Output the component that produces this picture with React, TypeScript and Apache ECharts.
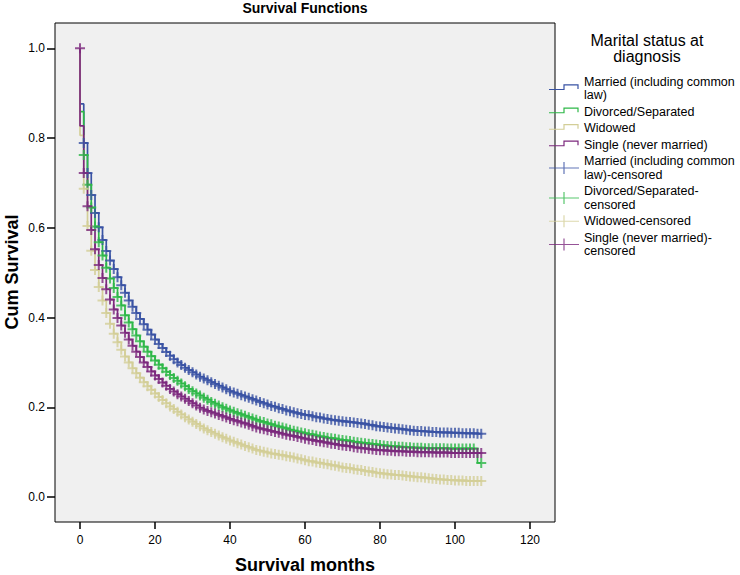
import React, { useEffect, useRef } from "react";
import * as echarts from "echarts";

// Kaplan-Meier survival values S(t) for months t = 0..107
const married = [
  0.876, 0.789, 0.722, 0.673, 0.633, 0.601, 0.573, 0.548, 0.527, 0.508,
  0.490, 0.472, 0.455, 0.438, 0.424, 0.410, 0.397, 0.385, 0.373, 0.362,
  0.351, 0.341, 0.332, 0.323, 0.315, 0.307, 0.300, 0.294, 0.288, 0.283,
  0.278, 0.273, 0.268, 0.264, 0.260, 0.256, 0.252, 0.248, 0.244, 0.240,
  0.236, 0.233, 0.230, 0.227, 0.224, 0.221, 0.218, 0.215, 0.212, 0.209,
  0.206, 0.203, 0.201, 0.198, 0.196, 0.193, 0.191, 0.189, 0.187, 0.185,
  0.183, 0.182, 0.180, 0.178, 0.177, 0.175, 0.174, 0.172, 0.171, 0.170,
  0.169, 0.168, 0.167, 0.166, 0.165, 0.164, 0.163, 0.161, 0.160, 0.158,
  0.157, 0.156, 0.155, 0.154, 0.153, 0.152, 0.151, 0.150, 0.149, 0.148,
  0.147, 0.147, 0.146, 0.146, 0.145, 0.145, 0.144, 0.144, 0.144, 0.143,
  0.143, 0.143, 0.142, 0.142, 0.142, 0.142, 0.141, 0.141,
];
const divorced = [
  0.859, 0.762, 0.696, 0.645, 0.603, 0.568, 0.538, 0.511, 0.487, 0.466,
  0.446, 0.427, 0.405, 0.389, 0.374, 0.360, 0.347, 0.335, 0.324, 0.314,
  0.304, 0.295, 0.287, 0.279, 0.272, 0.265, 0.259, 0.253, 0.247, 0.241,
  0.236, 0.231, 0.226, 0.221, 0.217, 0.212, 0.208, 0.204, 0.200, 0.197,
  0.193, 0.190, 0.187, 0.184, 0.181, 0.178, 0.175, 0.172, 0.169, 0.167,
  0.164, 0.162, 0.159, 0.157, 0.155, 0.153, 0.150, 0.148, 0.146, 0.144,
  0.142, 0.140, 0.139, 0.137, 0.135, 0.134, 0.132, 0.131, 0.130, 0.128,
  0.127, 0.126, 0.125, 0.123, 0.122, 0.121, 0.120, 0.119, 0.118, 0.117,
  0.116, 0.115, 0.114, 0.113, 0.113, 0.112, 0.112, 0.111, 0.111, 0.110,
  0.110, 0.110, 0.109, 0.109, 0.109, 0.109, 0.109, 0.109, 0.108, 0.108,
  0.108, 0.108, 0.108, 0.108, 0.108, 0.108, 0.076, 0.076,
];
const widowed = [
  0.806, 0.687, 0.604, 0.549, 0.506, 0.468, 0.438, 0.410, 0.386, 0.364,
  0.345, 0.328, 0.313, 0.300, 0.287, 0.276, 0.266, 0.256, 0.247, 0.239,
  0.231, 0.223, 0.216, 0.209, 0.202, 0.196, 0.190, 0.184, 0.178, 0.173,
  0.168, 0.163, 0.158, 0.153, 0.149, 0.145, 0.141, 0.137, 0.133, 0.130,
  0.126, 0.123, 0.120, 0.117, 0.114, 0.111, 0.108, 0.105, 0.103, 0.101,
  0.099, 0.097, 0.096, 0.094, 0.093, 0.091, 0.090, 0.088, 0.086, 0.084,
  0.082, 0.080, 0.079, 0.077, 0.076, 0.074, 0.073, 0.071, 0.070, 0.068,
  0.066, 0.065, 0.064, 0.062, 0.061, 0.060, 0.058, 0.057, 0.056, 0.054,
  0.053, 0.052, 0.051, 0.050, 0.049, 0.049, 0.048, 0.047, 0.046, 0.045,
  0.044, 0.044, 0.043, 0.042, 0.041, 0.040, 0.039, 0.039, 0.038, 0.038,
  0.037, 0.037, 0.037, 0.036, 0.036, 0.036, 0.036, 0.036,
];
const single = [
  0.827, 0.722, 0.648, 0.595, 0.552, 0.517, 0.488, 0.463, 0.440, 0.418,
  0.399, 0.382, 0.366, 0.351, 0.337, 0.324, 0.312, 0.300, 0.290, 0.280,
  0.271, 0.263, 0.255, 0.248, 0.241, 0.235, 0.229, 0.224, 0.219, 0.214,
  0.209, 0.204, 0.199, 0.195, 0.192, 0.189, 0.186, 0.183, 0.180, 0.177,
  0.174, 0.171, 0.169, 0.166, 0.164, 0.161, 0.158, 0.155, 0.153, 0.151,
  0.149, 0.147, 0.145, 0.143, 0.141, 0.139, 0.137, 0.136, 0.134, 0.132,
  0.130, 0.128, 0.127, 0.125, 0.124, 0.122, 0.121, 0.119, 0.118, 0.116,
  0.115, 0.114, 0.113, 0.111, 0.110, 0.109, 0.108, 0.107, 0.106, 0.105,
  0.104, 0.104, 0.103, 0.103, 0.102, 0.102, 0.102, 0.101, 0.101, 0.101,
  0.100, 0.100, 0.100, 0.100, 0.099, 0.099, 0.099, 0.099, 0.099, 0.098,
  0.098, 0.098, 0.098, 0.098, 0.098, 0.098, 0.098, 0.098,
];

const groupNames = [
  "Married (including common law)",
  "Divorced/Separated",
  "Widowed",
  "Single (never married)",
];
const legendLabels = [
  "Married (including common\nlaw)",
  "Divorced/Separated",
  "Widowed",
  "Single (never married)",
  "Married (including common\nlaw)-censored",
  "Divorced/Separated-\ncensored",
  "Widowed-censored",
  "Single (never married)-\ncensored",
];
const groupColors = ["#3953A4", "#2EB848", "#D3CE97", "#7C287D"];
// months without a censoring mark (per group)
const noCensorMonths = [[0], [0, 106], [0], [0]];

const xTicks = [0, 20, 40, 60, 80, 100, 120];
const yTicks = [0, 0.2, 0.4, 0.6, 0.8, 1.0];

const FONT = "'Liberation Sans', Arial, Helvetica, sans-serif";

const PLUS = "path://M0,4h10v2h-10z M4,0h2v10h-2z";
const STEP_ICON =
  "path://M0,0h0.01v0.01h-0.01z M29.99,11.99h0.01v0.01h-0.01z M0,6.4h15.6v1.2h-15.6z M14.4,1.8h1.2v5.8h-1.2z M14.4,1.8h15.2v1.2h-15.2z M28.4,1.8h1.2v4.8h-1.2z";
const PLUS_ICON = "path://M0,5.4h30v1.2h-30z M14.4,0h1.2v12h-1.2z";

export default function App() {
  const ref = useRef<HTMLDivElement>(null);

  useEffect(() => {
    document.body.style.margin = "0";
    if (!ref.current) return;
    const chart = echarts.init(ref.current, null, { renderer: "svg" });
    const groups = [married, divorced, widowed, single];

    const lineSeries = groups.map((vals, g) => ({
      type: "line",
      name: groupNames[g],
      step: "end",
      symbol: "none",
      showSymbol: false,
      silent: true,
      color: groupColors[g],
      lineStyle: { width: 1.7, color: groupColors[g] },
      itemStyle: { color: groupColors[g] },
      data: [[0, 1], ...vals.map((v, t) => [t, v])],
      z: 2,
    }));

    const censorSeries = groups.map((vals, g) => {
      const pts: number[][] = [];
      if (g === 3) pts.push([0, 1]);
      vals.forEach((v, t) => {
        if (noCensorMonths[g].indexOf(t) < 0) pts.push([t, v]);
      });
      return {
        type: "scatter",
        name: groupNames[g] + "-censored",
        symbol: PLUS,
        symbolSize: 10,
        silent: true,
        color: groupColors[g],
        itemStyle: { color: groupColors[g], borderWidth: 0 },
        data: pts,
        z: 3,
      };
    });

    const allNames = [
      ...groupNames,
      ...groupNames.map((n) => n + "-censored"),
    ];

    chart.setOption({
      animation: false,
      backgroundColor: "#ffffff",
      grid: {
        left: 55,
        top: 23,
        right: 185,
        bottom: 53,
        show: true,
        backgroundColor: "#f0f0f0",
        borderColor: "#000000",
        borderWidth: 1,
      },
      xAxis: {
        type: "value",
        min: -6.67,
        max: 126.67,
        axisLine: { show: false, onZero: false },
        splitLine: { show: false },
        axisTick: {
          show: true,
          length: 7,
          lineStyle: { color: "#000", width: 1.5 },
          customValues: xTicks,
        },
        axisLabel: {
          customValues: xTicks,
          fontSize: 12,
          color: "#000",
          margin: 12,
          fontFamily: FONT,
        },
      },
      yAxis: {
        type: "value",
        min: -0.0556,
        max: 1.0563,
        axisLine: { show: false, onZero: false },
        splitLine: { show: false },
        axisTick: {
          show: true,
          length: 8,
          lineStyle: { color: "#000", width: 1.5 },
          customValues: yTicks,
        },
        axisLabel: {
          customValues: yTicks,
          fontSize: 12,
          color: "#000",
          margin: 10,
          fontFamily: FONT,
          formatter: (v: number) => v.toFixed(1),
        },
      },
      legend: {
        orient: "vertical",
        left: 549,
        top: 75,
        padding: 0,
        itemWidth: 30,
        itemHeight: 12,
        itemGap: 3,
        selectedMode: false,
        symbolKeepAspect: false,
        itemStyle: { borderWidth: 0 },
        textStyle: { fontSize: 12.5, color: "#000", fontFamily: FONT, lineHeight: 13.5 },
        formatter: (name: string) => legendLabels[allNames.indexOf(name)],
        data: allNames.map((n, i) => ({ name: n, icon: i < 4 ? STEP_ICON : PLUS_ICON })),
      },
      graphic: [
        {
          type: "text",
          x: 305,
          y: 8,
          style: {
            text: "Survival Functions",
            fontSize: 14,
            fontWeight: "bold",
            fontFamily: FONT,
            fill: "#000",
            align: "center",
            verticalAlign: "middle",
          },
        },
        {
          type: "text",
          x: 647,
          y: 48.5,
          style: {
            text: "Marital status at\ndiagnosis",
            fontSize: 16,
            lineHeight: 16,
            fontFamily: FONT,
            fill: "#000",
            align: "center",
            verticalAlign: "middle",
          },
        },
        {
          type: "text",
          x: 305,
          y: 565,
          style: {
            text: "Survival months",
            fontSize: 18,
            fontWeight: "bold",
            fontFamily: FONT,
            fill: "#000",
            align: "center",
            verticalAlign: "middle",
          },
        },
        {
          type: "text",
          x: 12,
          y: 272,
          rotation: Math.PI / 2,
          style: {
            text: "Cum Survival",
            fontSize: 18,
            fontWeight: "bold",
            fontFamily: FONT,
            fill: "#000",
            align: "center",
            verticalAlign: "middle",
          },
        },
      ],
      series: [...lineSeries, ...censorSeries],
    });

    return () => chart.dispose();
  }, []);

  return <div ref={ref} style={{ width: 740, height: 575 }} />;
}
